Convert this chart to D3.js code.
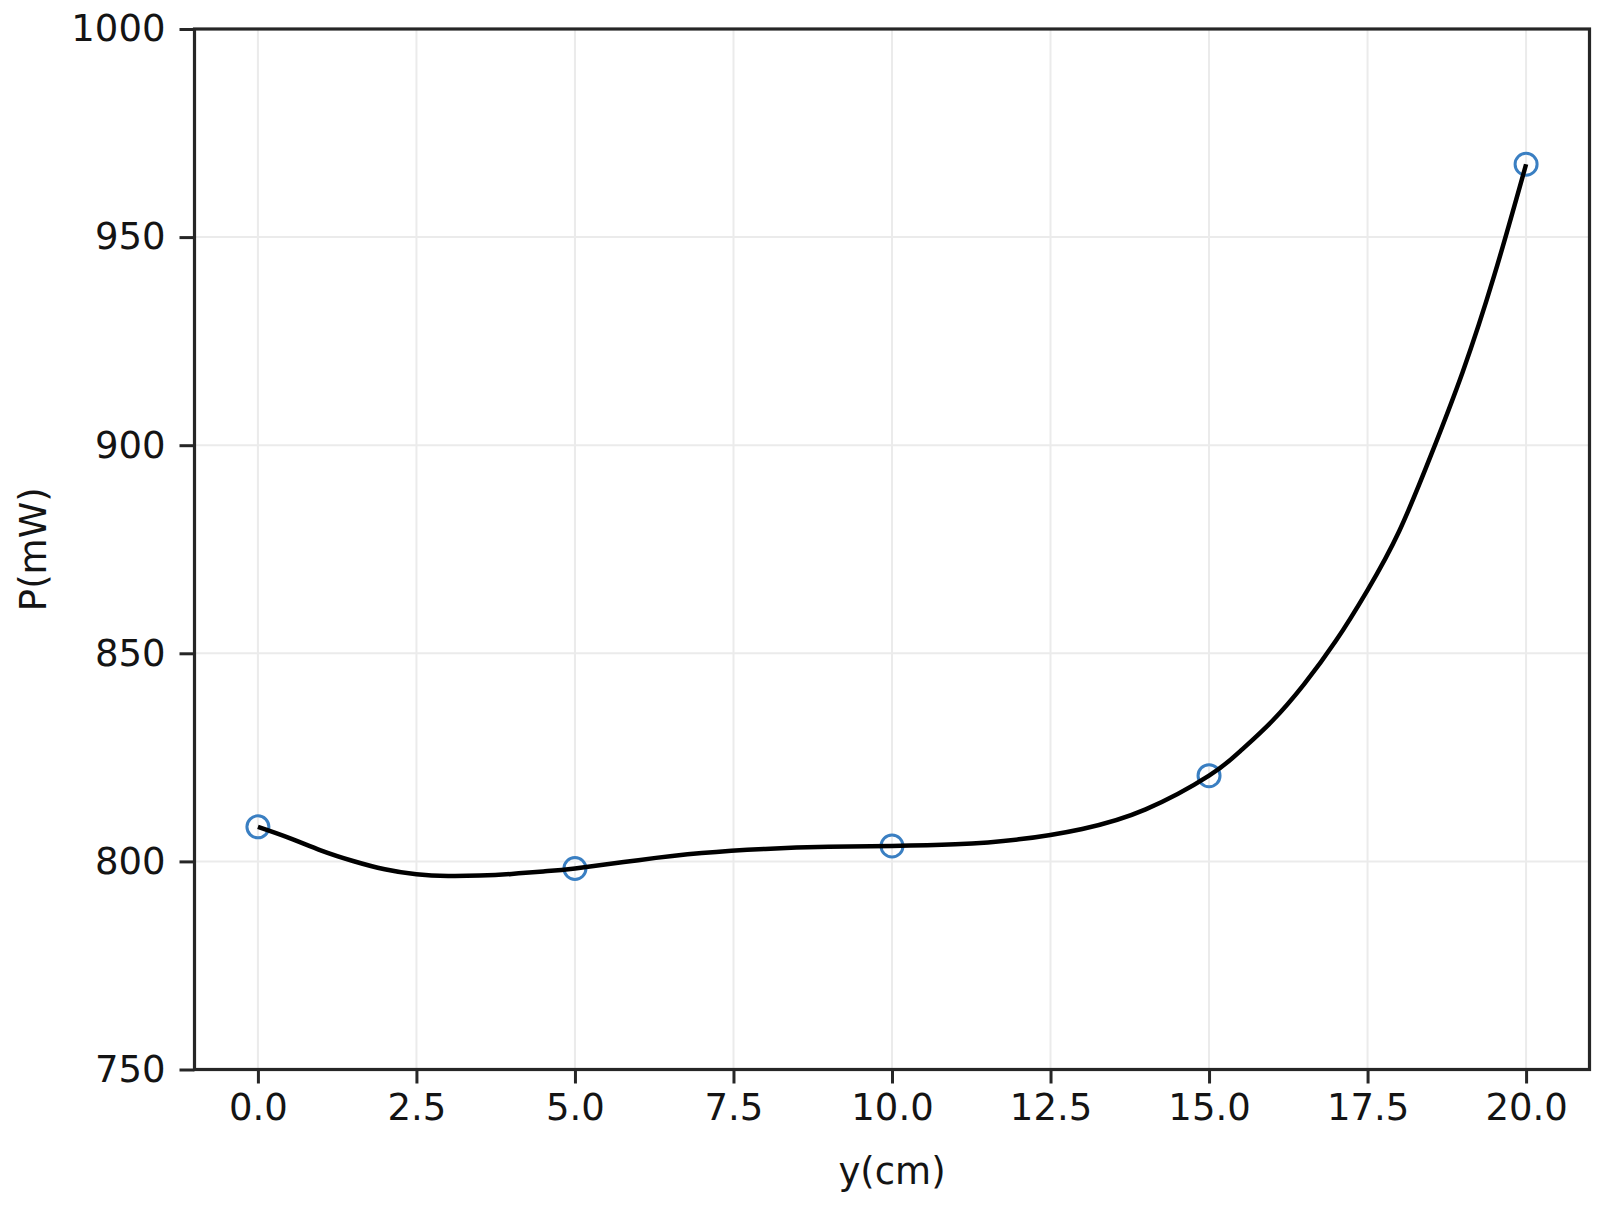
<!DOCTYPE html>
<html>
<head>
<meta charset="utf-8">
<script src="https://cdn.jsdelivr.net/npm/d3@7"></script>
<style>
  html, body { margin: 0; padding: 0; background: #ffffff; }
  svg { display: block; }
</style>
</head>
<body>
<svg id="chart" width="1608" height="1208"></svg>
<script>
// Measured points
const pointX = [0, 5, 10, 15, 20];
const pointP = [808.3, 798.3, 803.7, 820.6, 967.5];

// Fitted curve
const curveX = [0, 0.5, 1, 1.5, 2, 2.5, 3, 3.5, 4, 4.5, 5, 6, 7, 8, 9, 10, 11, 12, 13, 14, 15, 15.5, 16, 16.5, 17, 17.5, 18, 18.5, 19, 19.5, 20];
const curveP = [808.3, 805.6, 802.6, 800.1, 798.1, 796.9, 796.5, 796.6, 797.0, 797.6, 798.3, 800.3, 802.0, 803.0, 803.5, 803.7, 804.1, 805.3, 807.8, 812.5, 820.6, 826.6, 833.8, 842.6, 853.0, 865.2, 879.4, 897.6, 917.6, 940.9, 967.5];

// Tick values
const xTicks = [0, 2.5, 5, 7.5, 10, 12.5, 15, 17.5, 20];
const yTicks = [750, 800, 850, 900, 950, 1000];

const xLabel = "y(cm)";
const yLabel = "P(mW)";

const svg = d3.select("#chart");
const L = 194.5, R = 1589.5, T = 29, B = 1069.5;
const font = "'DejaVu Sans', sans-serif";

const x = d3.scaleLinear().domain([-1, 21]).range([L, R]);
const y = d3.scaleLinear().domain([750, 1000]).range([B, T]);

// Grid
const grid = svg.append("g").attr("stroke", "#ebebeb").attr("stroke-width", 2);
grid.selectAll("line.gx").data(xTicks).enter().append("line")
  .attr("x1", d => x(d)).attr("x2", d => x(d)).attr("y1", T).attr("y2", B);
grid.selectAll("line.gy").data(yTicks).enter().append("line")
  .attr("x1", L).attr("x2", R).attr("y1", d => y(d)).attr("y2", d => y(d));

// Axes
const xAxis = d3.axisBottom(x).tickValues(xTicks).tickFormat(d3.format(".1f")).tickSize(14).tickPadding(10);
const yAxis = d3.axisLeft(y).tickValues(yTicks).tickFormat(d3.format("d")).tickSize(15).tickPadding(14);

const gx = svg.append("g").attr("transform", `translate(0,${B})`).call(xAxis);
const gy = svg.append("g").attr("transform", `translate(${L},0)`).call(yAxis);
[gx, gy].forEach(g => {
  g.select(".domain").remove();
  g.selectAll(".tick line").attr("stroke", "#262626").attr("stroke-width", 3);
  g.selectAll(".tick text").attr("font-family", font).attr("font-size", 37).attr("fill", "#141414");
});

// Markers
svg.append("g").selectAll("circle").data(pointX.map((d, i) => [d, pointP[i]])).enter()
  .append("circle")
  .attr("cx", d => x(d[0])).attr("cy", d => y(d[1])).attr("r", 11)
  .attr("fill", "none").attr("stroke", "#3a7fc2").attr("stroke-width", 3);

// Curve
const line = d3.line().x(d => x(d[0])).y(d => y(d[1])).curve(d3.curveNatural);
svg.append("path")
  .datum(curveX.map((d, i) => [d, curveP[i]]))
  .attr("d", line)
  .attr("fill", "none").attr("stroke", "#000").attr("stroke-width", 4.5);

// Frame
svg.append("rect").attr("x", L).attr("y", T).attr("width", R - L).attr("height", B - T)
  .attr("fill", "none").attr("stroke", "#262626").attr("stroke-width", 3.2);

// Labels
svg.append("text").attr("x", (L + R) / 2).attr("y", 1184)
  .attr("text-anchor", "middle").attr("font-family", font).attr("font-size", 37).attr("fill", "#141414")
  .text(xLabel);
svg.append("text").attr("transform", `translate(46,${(T + B) / 2}) rotate(-90)`)
  .attr("text-anchor", "middle").attr("font-family", font).attr("font-size", 37).attr("fill", "#141414")
  .text(yLabel);
</script>
</body>
</html>
